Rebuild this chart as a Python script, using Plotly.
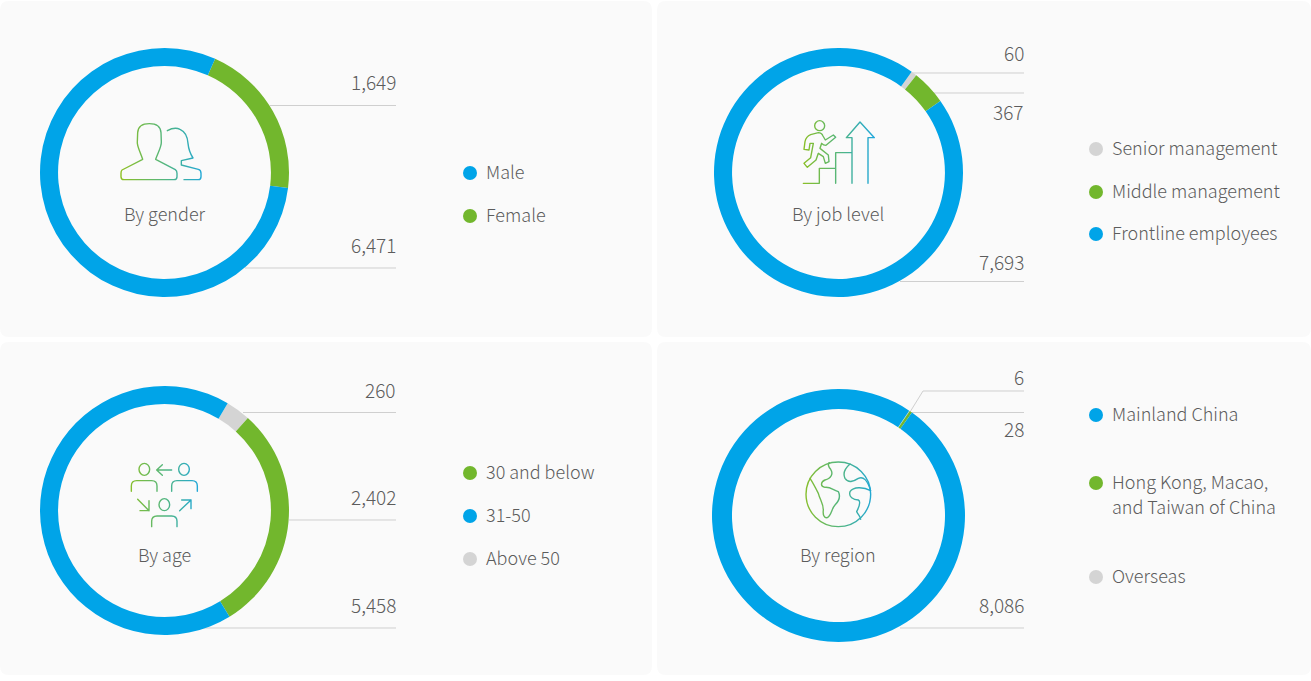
import base64
import plotly.graph_objects as go

gender_labels = ['Female', 'Male']
gender_values = [1649, 6471]
job_labels = ['Senior management', 'Middle management', 'Frontline employees']
job_values = [60, 367, 7693]
age_labels = ['Above 50', '30 and below', '31-50']
age_values = [260, 2402, 5458]
region_labels = ['Overseas', 'Hong Kong, Macao,<br>and Taiwan of China', 'Mainland China']
region_values = [6, 28, 8086]

titles = ['By gender', 'By job level', 'By age', 'By region']

BLUE = '#00a4e8'
GREEN = '#72b72d'
GREY = '#d4d4d4'
TEXT = '#5c5c5c'
LINE = '#cfcfcf'
FONT = 'Noto Sans CJK SC'
W, H = 1311, 681

color_map = {
    'Male': BLUE, 'Female': GREEN,
    'Senior management': GREY, 'Middle management': GREEN, 'Frontline employees': BLUE,
    '30 and below': GREEN, '31-50': BLUE, 'Above 50': GREY,
    'Mainland China': BLUE, 'Hong Kong, Macao,<br>and Taiwan of China': GREEN, 'Overseas': GREY,
}

# icons are drawn in 3x crop coordinates, then placed at their pixel box
icons = [
    (110, 110, 110, 85, """
    <path d="M118 41C95 41 84 52 83 68L82 95C80 105 88 120 98 148L36 180Q33 182 33 190L33 200Q33 209 42 209L192 209Q201 209 201 200L201 190Q201 182 196 179L137 148C145 125 155 110 154 95L153 68C152 52 140 41 118 41Z"/>
    <path d="M172 62C185 55 200 53 210 58C228 66 233 85 234 100C236 120 240 130 249 144L214 152L214 165L265 178Q273 180 273 190L273 200Q273 209 265 209L222 209"/>
    """),
    (790, 110, 100, 85, """
    <circle cx="89" cy="47" r="15"/>
    <path d="M42 118L45 95Q48 80 62 74L85 68Q95 68 99 78L106 90L130 75L137 82L108 106Q100 106 95 100L90 115L115 135L117 155L106 160L100 140L85 130L78 150L52 172L42 160L62 143L70 100L60 100L57 120Z"/>
    <path d="M40 220L88 220L88 175L137 175L137 128L186 128M137 175L137 220M186 220L186 83L169 83L210 36L253 83L234 83L234 220"/>
    """),
    (115, 450, 100, 85, """
    <ellipse cx="88" cy="58" rx="16" ry="18"/><ellipse cx="207" cy="58" rx="16" ry="18"/><ellipse cx="148" cy="164" rx="16" ry="18"/>
    <path d="M49 124L49 108Q49 92 65 92L110 92Q126 92 126 108L126 124"/>
    <path d="M170 124L170 108Q170 92 186 92L231 92Q247 92 247 108L247 124"/>
    <path d="M110 230L110 214Q110 198 126 198L170 198Q186 198 186 214L186 230"/>
    <path d="M170 60L125 60M142 44L125 60L142 76M68 148L102 182M102 152L102 182L75 182M194 182L228 150M200 150L228 150L228 176"/>
    """),
    (790, 450, 100, 85, """
    <circle cx="145" cy="133" r="97"/>
    <path d="M60 85C70 100 80 120 85 130C90 150 100 160 100 180C98 195 103 205 112 203C125 195 125 175 135 165C150 150 150 135 145 125C130 120 120 110 105 112C90 110 92 95 105 90C125 85 130 70 122 58C115 50 113 42 118 38"/>
    <path d="M180 42C165 55 158 70 165 85C175 100 190 95 205 85C220 78 232 90 242 122C220 110 190 110 180 125C175 140 190 150 205 150C215 155 205 175 200 185C205 195 212 200 212 208"/>
    """),
]


def icon_uri(w, h, body):
    svg = ('<svg xmlns="http://www.w3.org/2000/svg" width="{0}" height="{1}" viewBox="0 0 {0} {1}">'
           '<defs><linearGradient id="g" gradientUnits="userSpaceOnUse" x1="30" y1="0" x2="{2}" y2="0">'
           '<stop offset="0" stop-color="#8fc020"/><stop offset="0.55" stop-color="#4fb585"/>'
           '<stop offset="1" stop-color="#1ba6e2"/></linearGradient></defs>'
           '<g fill="none" stroke="url(#g)" stroke-width="4.2" stroke-linejoin="round" stroke-linecap="round">'
           '{3}</g></svg>').format(w * 3, h * 3, w * 3 - 40, body)
    return 'data:image/svg+xml;base64,' + base64.b64encode(svg.encode()).decode()


def rounded(x0, y0, x1, y1, r=9):
    return ('M{a},{y0} L{b},{y0} Q{x1},{y0} {x1},{c} L{x1},{d} Q{x1},{y1} {b},{y1} '
            'L{a},{y1} Q{x0},{y1} {x0},{d} L{x0},{c} Q{x0},{y0} {a},{y0} Z').format(
        a=x0 + r, b=x1 - r, c=y0 + r, d=y1 - r, x0=x0, x1=x1, y0=y0, y1=y1)


fig = go.Figure()

# centre x, centre y, outer radius, hole, rotation
rings = [
    (gender_labels, gender_values, 164.5, 172.5, 124.5, 0.855, 24),
    (job_labels, job_values, 838.5, 172.5, 124.5, 0.855, 36),
    (age_labels, age_values, 164.5, 510.5, 124.5, 0.855, 30.5),
    (region_labels, region_values, 838.5, 515.5, 126.5, 0.842, 34),
]
for labels, values, cx, cy, r, hole, rot in rings:
    fig.add_trace(go.Pie(
        labels=labels, values=values, hole=hole, rotation=rot, sort=False,
        direction='clockwise', textinfo='none', showlegend=False,
        marker=dict(colors=[color_map[l] for l in labels], line=dict(width=0)),
        domain=dict(x=[(cx - r) / W, (cx + r) / W], y=[1 - (cy + r) / H, 1 - (cy - r) / H]),
    ))

shapes = []
for x0, y0, x1, y1 in [(0, 1, 652, 337), (657, 1, 1311, 337), (0, 342, 652, 675), (657, 342, 1311, 675)]:
    shapes.append(dict(type='path', path=rounded(x0, y0, x1, y1), fillcolor='#fafafa',
                       line=dict(width=0), xref='x', yref='y', layer='below'))

leaders = [
    'M270,105.5 L396,105.5', 'M245,268 L396,268',
    'M912,73 L1024,73', 'M932,93 L1024,93', 'M900,281.5 L1024,281.5',
    'M243,412.5 L396,412.5', 'M289,520 L396,520', 'M200,628 L396,628',
    'M910,412 L923,391 L1024,391', 'M910,412.5 L1024,412.5', 'M900,628 L1024,628',
]
for p in leaders:
    shapes.append(dict(type='path', path=p, line=dict(color=LINE, width=1),
                       xref='x', yref='y', layer='below'))


def add_text(text, x, y, anchor='left', size=18):
    # annotations carry a little padding, shift it back out
    xshift = {'left': -2, 'right': 2, 'center': 0}[anchor]
    fig.add_annotation(text=text, x=x, y=y, xref='x', yref='y', showarrow=False,
                       xanchor=anchor, yanchor='middle', align=anchor, xshift=xshift, yshift=2,
                       font=dict(family=FONT, size=size, color=TEXT, weight=300))


# value labels, in each ring's data order
value_pos = [
    (396, [83, 246]),
    (1024, [54, 113, 263]),
    (396, [391, 498, 606]),
    (1024, [378, 430, 606]),
]
all_values = [gender_values, job_values, age_values, region_values]
for (x, ys), values in zip(value_pos, all_values):
    for v, y in zip(values, ys):
        add_text('{:,}'.format(v), x, y, 'right', 19)

title_pos = [(165, 215), (838, 215), (164, 556), (838, 556)]
for t, (x, y) in zip(titles, title_pos):
    add_text(t, x, y, 'center')

# legends: label order, dot x, text x, row y
legends = [
    (['Male', 'Female'], 470, 486, [173, 216]),
    (['Senior management', 'Middle management', 'Frontline employees'], 1096, 1112, [149, 192, 234]),
    (['30 and below', '31-50', 'Above 50'], 470, 486, [473, 516, 559]),
    (['Mainland China', 'Hong Kong, Macao,<br>and Taiwan of China', 'Overseas'], 1096, 1112, [415, 483, 577]),
]
for names, dot_x, text_x, ys in legends:
    fig.add_trace(go.Scatter(
        x=[dot_x] * len(names), y=ys, mode='markers', showlegend=False, hoverinfo='skip',
        marker=dict(size=14, color=[color_map[n] for n in names], line=dict(width=0)),
    ))
    for n, y in zip(names, ys):
        parts = n.split('<br>')
        for i, part in enumerate(parts):
            add_text(part, text_x, y + i * 25)

images = []
for x, y, w, h, body in icons:
    images.append(dict(source=icon_uri(w, h, body), xref='x', yref='y', x=x, y=y,
                       sizex=w, sizey=h, xanchor='left', yanchor='top', sizing='stretch', layer='above'))

fig.update_layout(
    width=W, height=H, margin=dict(l=0, r=0, t=0, b=0),
    paper_bgcolor='white', plot_bgcolor='white', showlegend=False,
    xaxis=dict(range=[0, W], visible=False, fixedrange=True),
    yaxis=dict(range=[H, 0], visible=False, fixedrange=True),
    shapes=shapes, images=images,
)

fig.write_html('out.html', config=dict(displayModeBar=False),
               post_script="document.body.style.margin='0';")
